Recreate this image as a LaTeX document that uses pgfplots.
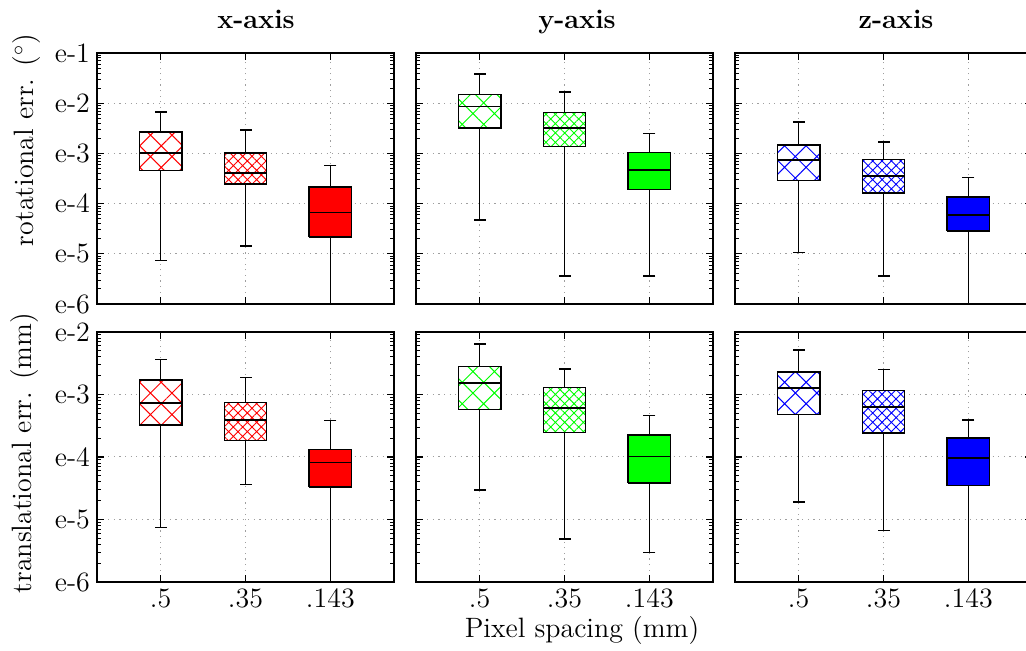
\documentclass[border=0pt]{standalone}
\usepackage{pgfplots}
\pgfplotsset{compat=1.18}
\usetikzlibrary{patterns.meta}

\def\minorA{-5.699,-5.523,-5.398,-5.301,-5.222,-5.155,-5.097,-5.046,-4.699,-4.523,-4.398,-4.301,-4.222,-4.155,-4.097,-4.046,-3.699,-3.523,-3.398,-3.301,-3.222,-3.155,-3.097,-3.046,-2.699,-2.523,-2.398,-2.301,-2.222,-2.155,-2.097,-2.046,-1.699,-1.523,-1.398,-1.301,-1.222,-1.155,-1.097,-1.046}
\def\minorB{-5.699,-5.523,-5.398,-5.301,-5.222,-5.155,-5.097,-5.046,-4.699,-4.523,-4.398,-4.301,-4.222,-4.155,-4.097,-4.046,-3.699,-3.523,-3.398,-3.301,-3.222,-3.155,-3.097,-3.046,-2.699,-2.523,-2.398,-2.301,-2.222,-2.155,-2.097,-2.046}

% #1 box style, #2 position, #3 lower whisker, #4 lower quartile, #5 median, #6 upper quartile, #7 upper whisker, #8 lower-cap style
\newcommand\bx[8]{%
  \pgfmathsetmacro\xl{#2-0.25}\pgfmathsetmacro\xr{#2+0.25}%
  \addplot[black, line width=0.75pt, mark=-, mark size=3pt, mark options={solid, line width=0.75pt}, #8] coordinates {(#2,#4) (#2,#3)};
  \addplot[black, line width=0.75pt, mark=-, mark size=3pt, mark options={solid, line width=0.75pt}, mark indices={2}] coordinates {(#2,#6) (#2,#7)};
  \addplot[#1, line join=miter] coordinates {(\xl,#4) (\xr,#4) (\xr,#6) (\xl,#6) (\xl,#4)};
  \addplot[black, line width=0.75pt] coordinates {(\xl,#5) (\xr,#5)};
}

\pgfplotsset{
  base/.style={scale only axis, width=148.5pt, xmin=0.25, xmax=3.75,
    xtick={1,2,3}, xticklabels={}, yticklabels={},
    tick align=inside, major tick length=3.5pt, minor tick length=1.8pt,
    grid=major, grid style={gray!75, line width=0.5pt, dash pattern=on 0.6pt off 2.2pt},
    axis line style={line width=0.8pt},
    every tick/.append style={black, line width=0.6pt},
    every minor tick/.append style={black, line width=0.4pt},
    tick label style={font=\fontsize{14}{16}\selectfont},
    clip=true},
  toprow/.style={base, height=125.5pt, ymin=-6, ymax=-1, ytick={-6,-5,-4,-3,-2,-1}, minor ytick=\minorA},
  botrow/.style={base, height=125pt, ymin=-6, ymax=-2, ytick={-6,-5,-4,-3,-2}, minor ytick=\minorB, xticklabels={.5,.35,.143}},
  hA/.style={draw=black, line width=0.75pt, fill=white, postaction={pattern={Hatch[angle=45,distance=7.6pt,line width=0.5pt]}, pattern color=#1}},
  hB/.style={draw=black, line width=0.75pt, fill=white, postaction={pattern={Hatch[angle=45,distance=3.3pt,line width=0.45pt]}, pattern color=#1}},
  sF/.style={draw=black, line width=0.75pt, fill=#1},
  cap/.style={mark indices={2}},
  nocap/.style={mark=none},
}

\begin{document}
\begin{tikzpicture}
% ---------- top row: rotational error ----------
\begin{axis}[toprow, at={(48.5pt,173.5pt)}, anchor=south west, yticklabels={e-6,e-5,e-4,e-3,e-2,e-1}]
\bx{hA=red}{1}{-5.13}{-3.34}{-2.99}{-2.57}{-2.18}{cap}
\bx{hB=red}{2}{-4.84}{-3.61}{-3.39}{-2.99}{-2.53}{cap}
\bx{sF=red}{3}{-6.5}{-4.67}{-4.18}{-3.67}{-3.24}{nocap}
\end{axis}
\begin{axis}[toprow, at={(208pt,173.5pt)}, anchor=south west]
\bx{hA=green}{1}{-4.33}{-2.49}{-2.07}{-1.83}{-1.42}{cap}
\bx{hB=green}{2}{-5.44}{-2.86}{-2.49}{-2.19}{-1.78}{cap}
\bx{sF=green}{3}{-5.44}{-3.72}{-3.33}{-2.98}{-2.60}{cap}
\end{axis}
\begin{axis}[toprow, at={(367.5pt,173.5pt)}, anchor=south west]
\bx{hA=blue}{1}{-4.97}{-3.54}{-3.13}{-2.83}{-2.37}{cap}
\bx{hB=blue}{2}{-5.44}{-3.79}{-3.45}{-3.12}{-2.77}{cap}
\bx{sF=blue}{3}{-6.5}{-4.55}{-4.23}{-3.87}{-3.48}{nocap}
\end{axis}
% ---------- bottom row: translational error ----------
\begin{axis}[botrow, at={(48.5pt,34.5pt)}, anchor=south west, yticklabels={e-6,e-5,e-4,e-3,e-2}]
\bx{hA=red}{1}{-5.13}{-3.49}{-3.14}{-2.77}{-2.44}{cap}
\bx{hB=red}{2}{-4.44}{-3.74}{-3.41}{-3.13}{-2.73}{cap}
\bx{sF=red}{3}{-6.5}{-4.48}{-4.09}{-3.88}{-3.42}{nocap}
\end{axis}
\begin{axis}[botrow, at={(208pt,34.5pt)}, anchor=south west]
\bx{hA=green}{1}{-4.53}{-3.24}{-2.82}{-2.55}{-2.19}{cap}
\bx{hB=green}{2}{-5.31}{-3.61}{-3.22}{-2.89}{-2.59}{cap}
\bx{sF=green}{3}{-5.53}{-4.42}{-3.99}{-3.65}{-3.34}{cap}
\end{axis}
\begin{axis}[botrow, at={(367.5pt,34.5pt)}, anchor=south west]
\bx{hA=blue}{1}{-4.72}{-3.32}{-2.90}{-2.64}{-2.29}{cap}
\bx{hB=blue}{2}{-5.18}{-3.62}{-3.20}{-2.94}{-2.60}{cap}
\bx{sF=blue}{3}{-6.5}{-4.46}{-4.02}{-3.70}{-3.41}{nocap}
\end{axis}
% ---------- titles and labels ----------
\node[font=\fontsize{13.5}{16}\selectfont\bfseries, anchor=base] at (128pt,311pt) {x-axis};
\node[font=\fontsize{13.5}{16}\selectfont\bfseries, anchor=base] at (288.5pt,311pt) {y-axis};
\node[font=\fontsize{13.5}{16}\selectfont\bfseries, anchor=base] at (448pt,311pt) {z-axis};
\node[font=\fontsize{14}{16}\selectfont, anchor=base] at (291pt,6.5pt) {Pixel spacing (mm)};
\node[font=\fontsize{14}{16}\selectfont, rotate=90] at (13.5pt,255.5pt) {rotational err. ($^\circ$)};
\node[font=\fontsize{14}{16}\selectfont, rotate=90] at (12.5pt,99pt) {translational err. (mm)};
\pgfresetboundingbox
\path[use as bounding box] (0,0) rectangle (513pt,325.5pt);
\end{tikzpicture}
\end{document}
